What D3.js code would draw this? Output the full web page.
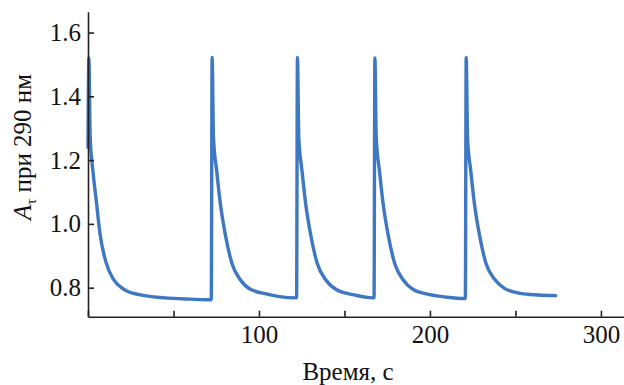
<!DOCTYPE html>
<html>
<head>
<meta charset="utf-8">
<script src="https://cdn.jsdelivr.net/npm/d3@7"></script>
<style>
  body { margin: 0; background: #fff; }
  svg { display: block; }
</style>
</head>
<body>
<svg id="main" width="624" height="385"></svg>
<script>
// trace: time (s) and absorbance at 290 nm
const timeS = [
    0, 0.5, 1.3, 3.0, 4.9, 7.0, 10.5, 15, 21, 30, 45, 60, 71.8,
    72.1, 72.6, 73.4, 75.3, 77.3, 80.3, 84.2, 89.1, 95, 104.8, 112, 121.6,
    122.0, 122.5, 123.3, 125.2, 127.2, 130.2, 134.1, 139, 145, 155, 166.9,
    167.3, 167.8, 168.6, 170.5, 172.5, 175.5, 179.4, 184.3, 190, 200, 210, 220.3,
    220.7, 221.2, 222.0, 223.9, 225.9, 228.9, 232.8, 237.7, 243.6, 253, 263, 273.5
];
const absorb = [
    1.24, 1.52, 1.27, 1.16, 1.07, 0.97, 0.88, 0.825, 0.795, 0.778, 0.768, 0.764, 0.762,
    0.762, 1.522, 1.27, 1.165, 1.068, 0.967, 0.876, 0.825, 0.795, 0.78, 0.772, 0.768,
    0.768, 1.522, 1.27, 1.165, 1.068, 0.967, 0.876, 0.825, 0.795, 0.778, 0.768,
    0.768, 1.52, 1.27, 1.165, 1.068, 0.967, 0.876, 0.825, 0.795, 0.778, 0.77, 0.766,
    0.766, 1.522, 1.27, 1.165, 1.068, 0.967, 0.876, 0.827, 0.798, 0.782, 0.777, 0.775
];
const xTicks = [0, 50, 100, 150, 200, 250, 300];
const xLabels = [100, 200, 300];
const yTicks = [0.8, 1.0, 1.2, 1.4, 1.6];

function draw() {
    const svg = d3.select("#main");
    const x = d3.scaleLinear().domain([0, 313.5]).range([88, 624]);
    const y = d3.scaleLinear().domain([0.709, 1.665]).range([316.7, 11.8]);
    const axisColor = '#222';
    const font = "'Liberation Serif', 'Times New Roman', Times, 'DejaVu Serif', serif";

    // curve
    const pts = timeS.map((t, i) => [t, absorb[i]]);
    const line = d3.line()
        .x(d => x(d[0]))
        .y(d => y(d[1]))
        .curve(d3.curveMonotoneX);
    svg.append('path')
        .attr('d', line(pts))
        .attr('fill', 'none')
        .attr('stroke', '#3f78c2')
        .attr('stroke-width', 3.4)
        .attr('stroke-linejoin', 'round')
        .attr('stroke-linecap', 'round');

    // x axis
    const xAxis = svg.append('g')
        .attr('transform', `translate(0,${y(0.709)})`)
        .call(d3.axisBottom(x).tickValues(xTicks).tickSize(-6).tickSizeOuter(0)
            .tickFormat(d => xLabels.includes(d) ? d : ''));
    xAxis.attr('font-family', font).attr('font-size', 25);
    xAxis.select('.domain').attr('stroke', axisColor).attr('stroke-width', 1.6);
    xAxis.selectAll('.tick line').attr('stroke', axisColor).attr('stroke-width', 1.6);
    xAxis.selectAll('.tick text')
        .attr('y', 26)
        .attr('dy', 0)
        .attr('fill', '#111');

    // y axis
    const yAxis = svg.append('g')
        .attr('transform', `translate(${x(0)},0)`)
        .call(d3.axisLeft(y).tickValues(yTicks).tickSize(-6).tickSizeOuter(0)
            .tickFormat(d3.format('.1f')));
    yAxis.attr('font-family', font).attr('font-size', 25);
    yAxis.select('.domain').attr('stroke', axisColor).attr('stroke-width', 1.6);
    yAxis.selectAll('.tick line').attr('stroke', axisColor).attr('stroke-width', 1.6);
    yAxis.selectAll('.tick text')
        .attr('x', -7)
        .attr('fill', '#111');

    // axis titles
    svg.append('text')
        .attr('x', 348)
        .attr('y', 380)
        .attr('text-anchor', 'middle')
        .attr('fill', '#111')
        .attr('font-family', font)
        .attr('font-size', 25)
        .text('Время, с');

    const yt = svg.append('text')
        .attr('transform', 'translate(31,147) rotate(-90)')
        .attr('text-anchor', 'middle')
        .attr('fill', '#111')
        .attr('font-family', font)
        .attr('font-size', 25);
    yt.append('tspan').attr('font-style', 'italic').text('A');
    yt.append('tspan').attr('dy', 5).attr('font-size', 15).text('τ');
    yt.append('tspan').attr('dy', -5).text(' при 290 нм');
}

draw();
</script>
</body>
</html>
